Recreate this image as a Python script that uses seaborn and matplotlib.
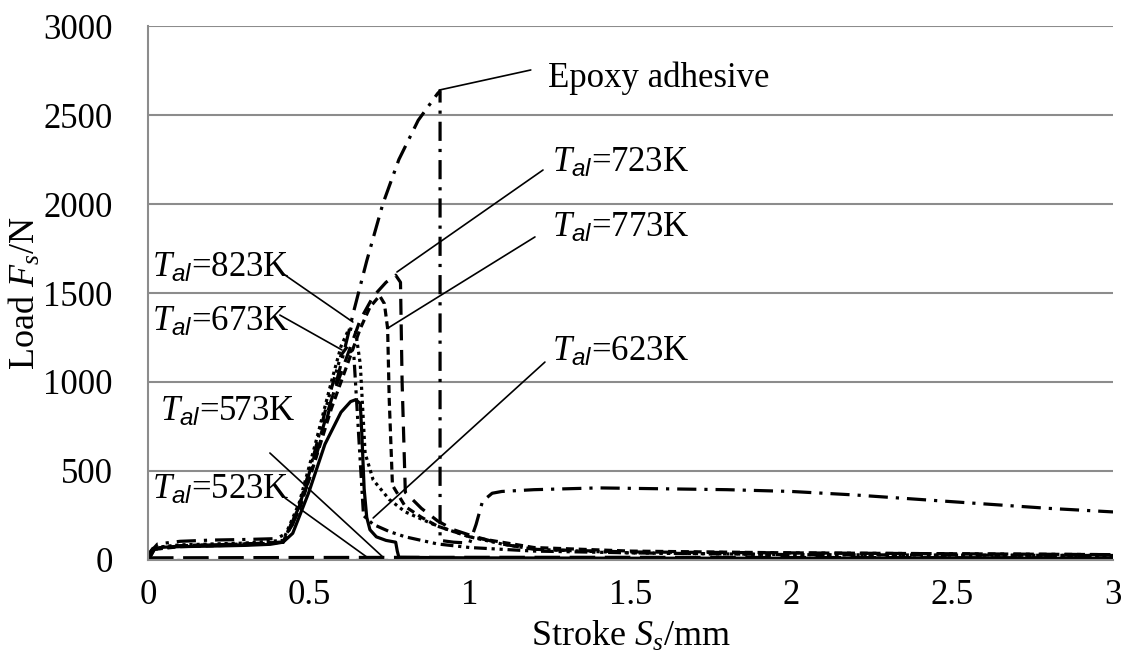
import matplotlib
matplotlib.use("Agg")
import matplotlib.pyplot as plt
import seaborn as sns
import pandas as pd
import numpy as np

# ---------------- data ----------------
epoxy_x = [0, 0.01, 0.03, 0.1, 0.2, 0.3, 0.4, 0.43, 0.45, 0.5, 0.55, 0.6, 0.64, 0.68, 0.73,
           0.78, 0.84, 0.88, 0.9, 0.908, 0.908, 0.95, 1.0, 1.02, 1.04, 1.07, 1.1, 1.2, 1.4,
           1.6, 1.8, 2.0, 2.2, 2.4, 2.6, 2.8, 3.0]
epoxy_y = [0, 50, 90, 105, 112, 115, 120, 150, 200, 450, 750, 1100, 1400, 1680, 2000,
           2250, 2470, 2570, 2620, 2635, 110, 100, 95, 200, 330, 375, 385, 395, 405,
           400, 395, 385, 365, 340, 315, 290, 270]

t723_x = [0, 0.02, 0.1, 0.3, 0.42, 0.47, 0.52, 0.57, 0.62, 0.66, 0.70, 0.74, 0.77, 0.785,
          0.79, 0.80, 0.85, 0.9, 0.95, 1.0, 1.1, 1.2, 1.5, 2.0, 2.5, 3.0]
t723_y = [0, 60, 80, 90, 100, 300, 600, 900, 1150, 1350, 1480, 1560, 1600, 1560,
          1000, 380, 290, 220, 170, 140, 90, 60, 45, 40, 35, 30]

t773_x = [0, 0.02, 0.1, 0.3, 0.42, 0.47, 0.52, 0.57, 0.62, 0.66, 0.69, 0.72, 0.735, 0.745,
          0.75, 0.76, 0.8, 0.85, 0.9, 1.0, 1.1, 1.2, 1.5, 2.0, 2.5, 3.0]
t773_y = [0, 60, 75, 85, 100, 280, 560, 850, 1100, 1300, 1420, 1485, 1440, 1300,
          900, 420, 300, 240, 190, 130, 100, 70, 50, 40, 35, 30]

t823_x = [0, 0.02, 0.1, 0.3, 0.42, 0.47, 0.52, 0.57, 0.6, 0.625, 0.645, 0.66, 0.675, 0.7,
          0.75, 0.8, 0.9, 1.0, 1.1, 1.2, 1.5, 2.0, 3.0]
t823_y = [0, 70, 85, 95, 110, 320, 650, 1000, 1200, 1300, 1290, 1100, 600, 450,
          340, 270, 190, 130, 90, 60, 40, 30, 25]

t673_x = [0, 0.02, 0.1, 0.3, 0.42, 0.47, 0.52, 0.56, 0.6, 0.62, 0.64, 0.655, 0.67, 0.7,
          0.75, 0.8, 0.9, 1.0, 1.2, 1.5, 2.0, 3.0]
t673_y = [0, 60, 80, 90, 100, 300, 620, 900, 1150, 1200, 1150, 700, 250, 200,
          160, 130, 90, 70, 50, 40, 30, 25]

t623_x = [0, 0.005, 0.015, 0.05, 0.1, 0.2, 0.3, 0.38, 0.42, 0.45, 0.5, 0.55, 0.6, 0.63,
          0.645, 0.66, 0.665, 0.672, 0.68, 0.69, 0.71, 0.74, 0.77, 0.775, 0.78, 1.0, 1.5,
          2.0, 2.5, 3.0]
t623_y = [0, 40, 65, 72, 75, 78, 82, 88, 100, 150, 380, 650, 830, 890,
          900, 880, 700, 400, 240, 170, 130, 110, 100, 50, 15, 12, 10,
          10, 10, 10]

t573_x = [0, 0.5, 1.0, 1.5, 2.0, 2.5, 3.0]
t573_y = [12, 14, 15, 15, 14, 13, 12]

t523_x = [0, 0.5, 1.0, 1.5, 2.0, 2.5, 3.0]
t523_y = [2, 2, 2, 2, 2, 2, 2]

x_ticks = [0, 0.5, 1, 1.5, 2, 2.5, 3]
x_tick_labels = ["0", "0.5", "1", "1.5", "2", "2.5", "3"]
y_ticks = [0, 500, 1000, 1500, 2000, 2500, 3000]

series = {
    "Epoxy": (epoxy_x, epoxy_y),
    "723K": (t723_x, t723_y),
    "773K": (t773_x, t773_y),
    "823K": (t823_x, t823_y),
    "673K": (t673_x, t673_y),
    "623K": (t623_x, t623_y),
    "573K": (t573_x, t573_y),
    "523K": (t523_x, t523_y),
}

dash_styles = {
    "Epoxy": (6, 2.5, 1, 2.5),
    "723K": (5, 3),
    "773K": (2.5, 1.5),
    "823K": (1, 1.2),
    "673K": (4, 1.5, 1, 1.5, 1, 1.5),
    "623K": "",
    "573K": (8, 3),
    "523K": (6, 3, 1, 3),
}

frames = []
for name, (xs, ys) in series.items():
    frames.append(pd.DataFrame({"x": xs, "y": ys, "series": name}))
df = pd.concat(frames, ignore_index=True)

# ---------------- plot ----------------
sns.set_theme(style="white")
plt.rcParams["font.family"] = ["Liberation Serif", "DejaVu Serif"]
plt.rcParams["mathtext.fontset"] = "custom"
plt.rcParams["mathtext.rm"] = "Liberation Serif"
plt.rcParams["mathtext.it"] = "Liberation Serif:italic"
plt.rcParams["mathtext.sf"] = "Liberation Sans:italic"
plt.rcParams["text.color"] = "black"
plt.rcParams["axes.labelcolor"] = "black"

fig = plt.figure(figsize=(11.27, 6.62), dpi=100)
ax = fig.add_axes([0.1313, 0.1541, 0.8563, 0.8066])

sns.lineplot(data=df, x="x", y="y", style="series", dashes=dash_styles,
             color="black", linewidth=2.3, estimator=None, sort=False,
             legend=False, ax=ax)

ax.set_xlim(0, 3)
ax.set_ylim(0, 3000)
ax.set_xticks(x_ticks)
ax.set_xticklabels(x_tick_labels)
ax.set_yticks(y_ticks)
ax.yaxis.grid(True, color="#8c8c8c", linewidth=1.5)
ax.xaxis.grid(False)
ax.set_axisbelow(True)

for s in ["top", "right"]:
    ax.spines[s].set_visible(False)
for s in ["left", "bottom"]:
    ax.spines[s].set_color("#8c8c8c")
    ax.spines[s].set_linewidth(1.5)

ax.tick_params(axis="both", which="major", direction="out", color="#8c8c8c",
               width=1.5, labelsize=25, labelcolor="black")
ax.tick_params(axis="y", length=9.5, pad=16)
ax.tick_params(axis="x", length=6, pad=8)

ax.set_xlabel(r"Stroke $S_s$/mm", fontsize=26, labelpad=5, color="black")
ax.set_ylabel(r"Load $F_s$/N", fontsize=26, labelpad=0, color="black")

# ---------------- annotations ----------------
annos = [
    ("Epoxy adhesive", (1.243, 2708), (1.19, 2753), (0.905, 2640)),
    (r"$T_{\mathsf{al}}$=723K", (1.256, 2230), (1.228, 2191), (0.774, 1618)),
    (r"$T_{\mathsf{al}}$=773K", (1.256, 1865), (1.203, 1815), (0.746, 1303)),
    (r"$T_{\mathsf{al}}$=623K", (1.256, 1168), (1.234, 1112), (0.70, 236)),
    (r"$T_{\mathsf{al}}$=823K", (0.012, 1640), (0.417, 1612), (0.637, 1337)),
    (r"$T_{\mathsf{al}}$=673K", (0.012, 1337), (0.41, 1376), (0.603, 1180)),
    (r"$T_{\mathsf{al}}$=573K", (0.037, 831), (0.379, 601), (0.73, 17)),
    (r"$T_{\mathsf{al}}$=523K", (0.012, 393), (0.426, 348), (0.68, 17)),
]
for text, tpos, lstart, lend in annos:
    ax.text(tpos[0], tpos[1], text, fontsize=25, ha="left", va="center", color="black")
    ax.plot([lstart[0], lend[0]], [lstart[1], lend[1]], color="black", linewidth=1.2)

fig.savefig("out.png", dpi=100)
